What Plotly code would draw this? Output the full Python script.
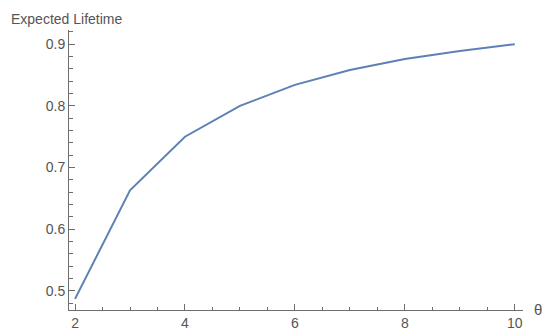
import plotly.graph_objects as go

# Values
theta = [2, 3, 4, 5, 6, 7, 8, 9, 10]
lifetime = [0.487, 0.663, 0.75, 0.8, 0.834, 0.858, 0.876, 0.889, 0.9]

AXIS = "#6e6e6e"
LABEL = "#555555"
FONT = "Liberation Sans, Arial, sans-serif"

fig = go.Figure()
fig.add_trace(
    go.Scatter(
        x=theta,
        y=lifetime,
        mode="lines",
        line=dict(color="#5E81B5", width=2),
        showlegend=False,
    )
)

# the page body adds 8px of margin, so the figure is 8px smaller on each side
OFF = 8
W, H = 550 - OFF, 334 - OFF
# plot area in page pixels: x 69..523, y 30..310
L, T = 69 - OFF, 30 - OFF
R, B = W - (523 - OFF), H - (310 - OFF)
pw, ph = W - L - R, H - T - B


def px(x):
    return (x - OFF - L) / pw


def py(y):
    return (H - (y - OFF) - B) / ph


fig.add_annotation(
    text="Expected Lifetime",
    xref="paper", yref="paper",
    x=px(9), y=py(9),
    xanchor="left", yanchor="top",
    showarrow=False,
    font=dict(size=14, color=LABEL, family=FONT),
)
fig.add_annotation(
    text="θ",
    xref="paper", yref="paper",
    x=px(532), y=py(309),
    xanchor="left", yanchor="middle",
    showarrow=False,
    font=dict(size=15, color=LABEL, family=FONT),
)

fig.update_layout(
    width=W,
    height=H,
    margin=dict(l=L, r=R, t=T, b=B, autoexpand=False),
    plot_bgcolor="white",
    paper_bgcolor="white",
    font=dict(family=FONT, size=14, color=LABEL),
    xaxis=dict(
        range=[1.89, 10.15],
        tick0=2, dtick=2,
        automargin=False,
        showgrid=False, zeroline=False,
        showline=True, linecolor=AXIS, linewidth=1,
        ticks="inside", ticklen=6, tickcolor=AXIS,
        minor=dict(dtick=0.5, tick0=2, ticks="inside", ticklen=3.5, tickcolor=AXIS),
    ),
    yaxis=dict(
        range=[0.469, 0.923],
        tick0=0.5, dtick=0.1,
        tickformat=".1f",
        automargin=False,
        showgrid=False, zeroline=False,
        showline=True, linecolor=AXIS, linewidth=1,
        ticks="inside", ticklen=6, tickcolor=AXIS,
        minor=dict(dtick=0.02, tick0=0.5, ticks="inside", ticklen=3.5, tickcolor=AXIS),
    ),
)

fig.write_html("out.html")
